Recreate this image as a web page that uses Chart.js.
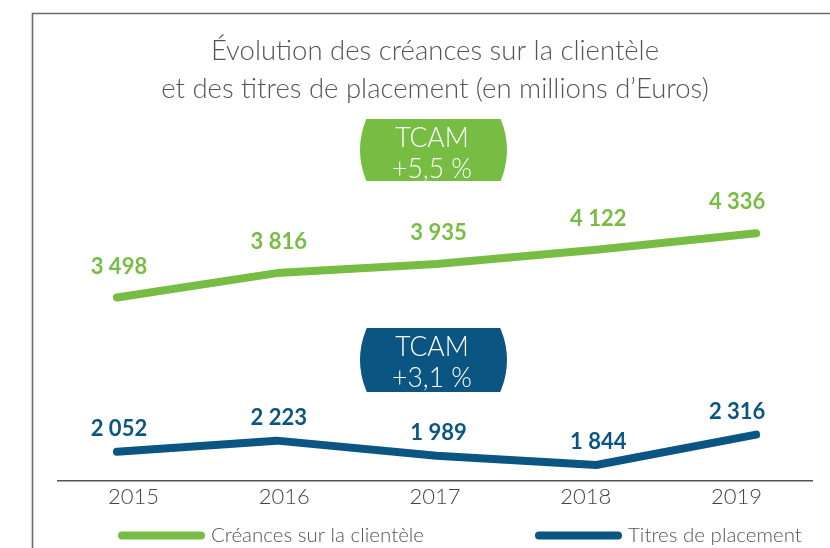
<!DOCTYPE html>
<html>
<head>
<meta charset="utf-8">
<script src="https://cdn.jsdelivr.net/npm/chart.js@4"></script>
<style>
  body { margin: 0; background: #fff; }
  #chart { display: block; }
</style>
</head>
<body>
<canvas id="chart" width="830" height="548"></canvas>
<script>
// data
const years = ['2015', '2016', '2017', '2018', '2019']
const creances = [3498, 3816, 3935, 4122, 4336]
const titres = [2052, 2223, 1989, 1844, 2316]
const seriesNames = ['Créances sur la clientèle', 'Titres de placement']
const tcamLabels = ['+5,5 %', '+3,1 %']

const GREEN = '#77bd43'
const BLUE = '#0b5582'
const GREY = '#555555'

function fmt(v) {
  return String(v).replace(/\B(?=(\d{3})+(?!\d))/g, ' ')
}

// left/top frame line
const framePlugin = {
  id: 'frame',
  beforeDraw(chart) {
    let ctx = chart.ctx
    ctx.save()
    ctx.strokeStyle = '#6a6a6a'
    ctx.lineWidth = 1.6
    ctx.beginPath()
    ctx.moveTo(830, 13.5)
    ctx.lineTo(32.5, 13.5)
    ctx.lineTo(32.5, 548)
    ctx.stroke()
    ctx.restore()
  }
}

// value labels above the points
const valuePlugin = {
  id: 'values',
  afterDatasetsDraw(chart) {
    let ctx = chart.ctx
    ctx.save()
    ctx.font = 'bold 22px Lato'
    ctx.textAlign = 'center'
    ctx.textBaseline = 'middle'
    const lift = [31, 23]
    chart.data.datasets.forEach((ds, di) => {
      let meta = chart.getDatasetMeta(di)
      ctx.fillStyle = ds.borderColor
      meta.data.forEach((pt, i) => {
        let dx = i == meta.data.length - 1 ? -19 : 2
        ctx.fillText(fmt(ds.data[i].y), pt.x + dx, pt.y - lift[di])
      })
    })
    ctx.restore()
  }
}

// TCAM badges
const badgePlugin = {
  id: 'badges',
  afterDraw(chart) {
    let ctx = chart.ctx
    const boxes = [
      { top: 119, bottom: 181, color: GREEN },
      { top: 328, bottom: 392, color: BLUE }
    ]
    boxes.forEach((b, i) => {
      ctx.save()
      ctx.beginPath()
      ctx.rect(300, b.top, 260, b.bottom - b.top)
      ctx.clip()
      ctx.beginPath()
      ctx.ellipse(433.5, (b.top + b.bottom) / 2, 73.5, 76, 0, 0, Math.PI * 2)
      ctx.fillStyle = b.color
      ctx.fill()
      ctx.restore()

      ctx.save()
      ctx.fillStyle = '#fff'
      ctx.font = '300 26.5px Lato'
      ctx.textAlign = 'center'
      ctx.textBaseline = 'middle'
      ctx.fillText('TCAM', 432, b.top + 19)
      ctx.fillText(tcamLabels[i], 432, b.top + 50)
      ctx.restore()
    })
  }
}

// legend drawn at the bottom
const legendPlugin = {
  id: 'bottomLegend',
  afterDraw(chart) {
    let ctx = chart.ctx
    const startX = [118, 535]
    const y = 535.5
    ctx.save()
    chart.data.datasets.forEach((ds, i) => {
      ctx.strokeStyle = ds.borderColor
      ctx.lineWidth = 8
      ctx.lineCap = 'round'
      ctx.beginPath()
      ctx.moveTo(startX[i] + 4, y)
      ctx.lineTo(startX[i] + 83, y)
      ctx.stroke()
      ctx.fillStyle = GREY
      ctx.font = '300 20.5px Lato'
      ctx.textBaseline = 'middle'
      ctx.textAlign = 'left'
      ctx.fillText(ds.label, startX[i] + 93, y)
    })
    ctx.restore()
  }
}

new Chart(document.getElementById('chart'), {
  type: 'line',
  data: {
    labels: years,
    datasets: [{
      label: seriesNames[0],
      data: creances.map((v, i) => ({ x: i, y: v })),
      xAxisID: 'xData',
      yAxisID: 'yC',
      borderColor: GREEN,
      borderWidth: 8,
      borderCapStyle: 'round',
      borderJoinStyle: 'round',
      pointRadius: 0,
      tension: 0
    }, {
      label: seriesNames[1],
      data: titres.map((v, i) => ({ x: i, y: v })),
      xAxisID: 'xData',
      yAxisID: 'yT',
      borderColor: BLUE,
      borderWidth: 8,
      borderCapStyle: 'round',
      borderJoinStyle: 'round',
      pointRadius: 0,
      tension: 0
    }]
  },
  options: {
    responsive: false,
    devicePixelRatio: 1,
    animation: false,
    layout: {
      padding: { left: 58, right: 18, top: 0, bottom: 35 }
    },
    scales: {
      x: {
        type: 'category',
        position: 'bottom',
        offset: true,
        grid: { display: false, drawTicks: false },
        border: { display: true, color: GREY, width: 1.5 },
        ticks: {
          color: '#444',
          padding: 3,
          font: { family: 'Lato', size: 22, weight: '300' }
        }
      },
      xData: {
        type: 'linear',
        display: false,
        min: -0.369,
        max: 4.35
      },
      yC: {
        type: 'linear',
        display: false,
        min: 1105,
        max: 5857
      },
      yT: {
        type: 'linear',
        display: false,
        min: 1602,
        max: 7254
      }
    },
    plugins: {
      legend: { display: false },
      tooltip: { enabled: false },
      title: {
        display: true,
        fullSize: false,
        text: ['Évolution des créances sur la clientèle', 'et des titres de placement (en millions d’Euros)'],
        color: GREY,
        font: { family: 'Lato', size: 27.5, weight: '300', lineHeight: 1.38 },
        padding: { top: 32, bottom: 9 }
      }
    }
  },
  plugins: [framePlugin, valuePlugin, badgePlugin, legendPlugin]
})
</script>
</body>
</html>
